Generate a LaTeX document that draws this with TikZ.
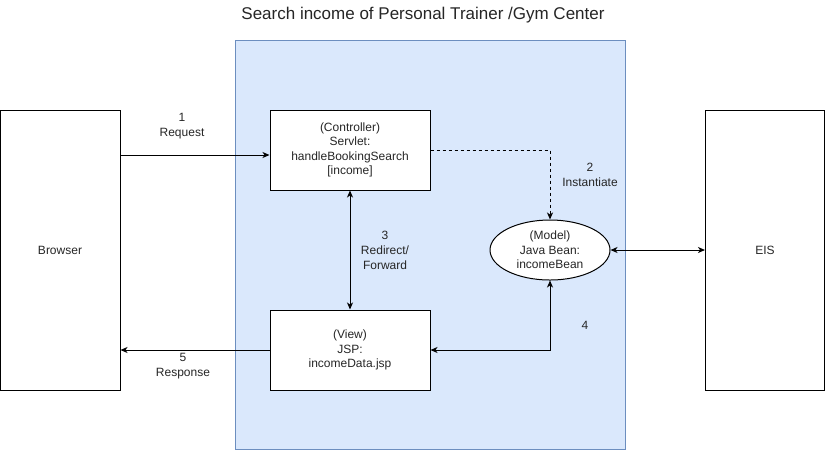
\documentclass[tikz,border=0pt]{standalone}
\usepackage{fontspec}
\setmainfont{Liberation Sans}
\usetikzlibrary{arrows.meta,shapes.geometric}
\definecolor{groupfill}{HTML}{DAE8FC}
\definecolor{groupline}{HTML}{6C8EBF}
\begin{document}
\begin{tikzpicture}[x=1pt,y=-1pt,
  every node/.style={font=\fontsize{12}{14.4}\selectfont, text=black!85, align=center, inner sep=0pt},
  box/.style={draw=black, line width=1pt, fill=white},
  conn/.style={draw=black, line width=1pt, -{Stealth[length=7pt,width=6pt,inset=2pt]}},
  biconn/.style={conn, {Stealth[length=7pt,width=6pt,inset=2pt]}-{Stealth[length=7pt,width=6pt,inset=2pt]}},
  lbl/.style={font=\fontsize{12}{15}\selectfont}]
\useasboundingbox (0,0) rectangle (826,451);
\fill[white] (0,0) rectangle (826,451);

% title
\node[font=\fontsize{17}{20}\selectfont] (title) at (423,15) {Search income of Personal Trainer /Gym Center};

% application server area
\draw[groupline, fill=groupfill, line width=1pt] (235.5,40.5) rectangle (625.5,449.5);

% outer tiers
\node[box, minimum width=120pt, minimum height=280pt] (browser) at (60,250) {Browser};
\node[box, minimum width=119pt, minimum height=280pt] (eis) at (765,250) {EIS};

% MVC components
\node[box, minimum width=160pt, minimum height=80pt] (ctrl) at (350,150)
  {(Controller)\\Servlet:\\handleBookingSearch\\{}[income]};
\node[box, minimum width=160pt, minimum height=80pt] (view) at (350,350)
  {(View)\\JSP:\\incomeData.jsp};
\node[draw=black, line width=1pt, fill=white, ellipse, minimum width=120pt, minimum height=60pt] (bean) at (550,250)
  {(Model)\\Java Bean:\\incomeBean};

% connectors
\draw[conn] (browser.east |- 0,155) -- (ctrl.west |- 0,155);
\node[lbl] (l1) at (182,126) {1\\Request};

\draw[conn, dashed] (ctrl.east) -| (bean.north);
\node[lbl] (l2) at (590,175) {2\\Instantiate};

\draw[biconn] (ctrl.south) -- (view.north);
\node[lbl] (l3) at (385,250) {3\\Redirect/\\Forward};

\draw[biconn] (bean.south) |- (view.east);
\node[lbl] (l4) at (585,325) {4};

\draw[conn] (view.west) -- (browser.east |- view.west);
\node[lbl] (l5) at (183,366) {5\\Response};

\draw[biconn] (bean.east) -- (eis.west);
\end{tikzpicture}
\end{document}
